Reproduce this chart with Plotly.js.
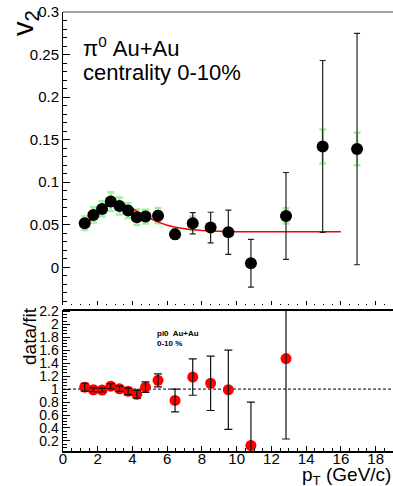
<!DOCTYPE html>
<html>
<head>
<meta charset="utf-8">
<script src="https://cdn.plot.ly/plotly-3.0.1.min.js"></script>
<style>
  html, body { margin: 0; padding: 0; background: #fff; }
  #chart { width: 393px; height: 486px; }
</style>
</head>
<body>
<div id="chart"></div>
<script>
// pi0 v2 vs pT, Au+Au 0-10% central, with fit and data/fit ratio
const ptValues = [1.25, 1.75, 2.25, 2.75, 3.25, 3.75, 4.25, 4.75, 5.47, 6.45, 7.47, 8.5, 9.52, 10.82, 12.84, 14.95, 16.93];
const v2Values = [0.0518, 0.0615, 0.0686, 0.0772, 0.0721, 0.0666, 0.0588, 0.0596, 0.0607, 0.0388, 0.0518, 0.0467, 0.0412, 0.0047, 0.0604, 0.142, 0.139];
const v2Stat   = [0.003, 0.002, 0.002, 0.003, 0.003, 0.003, 0.004, 0.005, 0.006, 0.006, 0.0125, 0.018, 0.026, 0.028, 0.051, 0.101, 0.136];
const v2Sys    = [0.008, 0.009, 0.009, 0.011, 0.010, 0.009, 0.009, 0.008, 0.009, 0.003, 0.008, 0.004, 0.004, 0.003, 0.009, 0.020, 0.019];

// fit curve sampled along pT (ends at 16 GeV/c)
const fitPt = [1.2, 1.5, 1.75, 2.0, 2.3, 2.6, 2.9, 3.15, 3.4, 3.7, 4.0, 4.3, 4.6, 5.0, 5.5, 6.0, 6.5, 7.0, 7.5, 8.0, 9.0, 10.0, 12.0, 14.0, 16.0];
const fitV2 = [0.0478, 0.0535, 0.058, 0.0625, 0.068, 0.0718, 0.0742, 0.0748, 0.0740, 0.0720, 0.0688, 0.0653, 0.0617, 0.0576, 0.0531, 0.0495, 0.0470, 0.0452, 0.0440, 0.0432, 0.0423, 0.0419, 0.0418, 0.0418, 0.0418];

// data/fit ratio (points up to the end of the fit range)
const ratioPt  = ptValues.slice(0, 15);
const ratioVal = [1.03, 0.99, 0.985, 1.045, 1.005, 0.965, 0.92, 1.03, 1.135, 0.825, 1.185, 1.09, 0.99, 0.13, 1.47];
const ratioErr = [0.06, 0.03, 0.03, 0.04, 0.04, 0.05, 0.06, 0.08, 0.10, 0.175, 0.28, 0.42, 0.61, 0.67, 1.24];

const FONT = 'Liberation Sans, Arial, Helvetica, sans-serif';
const W = 393, H = 486;
const M = {l: 63, r: 0, t: 12, b: 35};
const PW = W - M.l - M.r, PH = H - M.t - M.b;
const px = x => (x - M.l) / PW;
const py = y => (H - M.b - y) / PH;

const lowerTop = py(310);
const upperBottom = py(305);

const traces = [
  // systematic uncertainties (green bars behind)
  {
    x: ptValues, y: v2Values, xaxis: 'x2', yaxis: 'y2', type: 'scatter', mode: 'markers',
    marker: {size: 1, color: 'rgba(0,0,0,0)'},
    error_y: {type: 'data', array: v2Sys, visible: true, color: 'rgba(140,235,140,0.8)', thickness: 2.5, width: 3.5},
    hoverinfo: 'skip', showlegend: false
  },
  // fit
  {
    x: fitPt, y: fitV2, xaxis: 'x2', yaxis: 'y2', type: 'scatter', mode: 'lines',
    line: {color: '#ff0000', width: 1.5, shape: 'spline'},
    showlegend: false
  },
  // measured v2 with statistical errors
  {
    x: ptValues, y: v2Values, xaxis: 'x2', yaxis: 'y2', type: 'scatter', mode: 'markers',
    marker: {size: 12, color: '#000'},
    error_y: {type: 'data', array: v2Stat, visible: true, color: '#222', thickness: 1.2, width: 3},
    showlegend: false
  },
  // ratio markers
  {
    x: ratioPt, y: ratioVal, xaxis: 'x', yaxis: 'y', type: 'scatter', mode: 'markers',
    marker: {size: 11, color: '#ff0000'},
    showlegend: false
  },
  // ratio error bars drawn over the markers
  {
    x: ratioPt, y: ratioVal, xaxis: 'x', yaxis: 'y', type: 'scatter', mode: 'markers',
    marker: {size: 1, color: 'rgba(0,0,0,0)'},
    error_y: {type: 'data', array: ratioErr, visible: true, color: '#111', thickness: 1.2, width: 4},
    hoverinfo: 'skip', showlegend: false
  }
];

const layout = {
  width: W, height: H,
  margin: M,
  paper_bgcolor: '#fff', plot_bgcolor: 'rgba(0,0,0,0)',
  showlegend: false,
  font: {family: FONT, color: '#000'},
  xaxis: {
    domain: [0, 1], anchor: 'y', range: [0, 19],
    tickmode: 'linear', tick0: 0, dtick: 2,
    ticks: 'inside', ticklen: 5, tickwidth: 1, tickcolor: '#000',
    minor: {dtick: 0.5, ticks: 'inside', ticklen: 3, tickcolor: '#000', tickwidth: 1},
    showline: true, linecolor: '#000', linewidth: 1.5,
    showgrid: false, zeroline: false,
    ticklabelstandoff: -7,
    tickfont: {family: FONT, size: 15, color: '#000'}
  },
  yaxis: {
    domain: [0, lowerTop], anchor: 'x', range: [0.045, 2.22],
    tickmode: 'linear', tick0: 0, dtick: 0.2,
    ticks: 'inside', ticklen: 7, tickwidth: 1, tickcolor: '#000',
    minor: {dtick: 0.05, ticks: 'inside', ticklen: 4, tickcolor: '#000', tickwidth: 1},
    showline: true, linecolor: '#000', linewidth: 1.5,
    showgrid: false, zeroline: false,
    tickfont: {family: FONT, size: 14, color: '#000'}
  },
  xaxis2: {
    domain: [0, 1], anchor: 'y2', range: [0, 19], matches: 'x',
    tickmode: 'linear', tick0: 0, dtick: 2,
    ticks: 'inside', ticklen: 4, tickwidth: 1, tickcolor: '#000',
    minor: {dtick: 0.5, ticks: 'inside', ticklen: 1.5, tickcolor: '#000', tickwidth: 1},
    showline: false, showticklabels: false,
    showgrid: false, zeroline: false
  },
  yaxis2: {
    domain: [upperBottom, 1], anchor: 'x2', range: [-0.0443, 0.3],
    tickmode: 'linear', tick0: 0, dtick: 0.05,
    ticks: 'inside', ticklen: 7, tickwidth: 1, tickcolor: '#000',
    minor: {dtick: 0.01, ticks: 'inside', ticklen: 4, tickcolor: '#000', tickwidth: 1},
    showline: true, linecolor: '#000', linewidth: 1,
    showgrid: false, zeroline: false,
    tickfont: {family: FONT, size: 15, color: '#000'}
  },
  shapes: [
    // frame top of the v2 panel
    {type: 'line', xref: 'paper', yref: 'paper', x0: 0, x1: 1, y0: 1, y1: 1,
     line: {color: '#444', width: 1}},
    // frame top of the ratio panel
    {type: 'line', xref: 'paper', yref: 'paper', x0: 0, x1: 1, y0: lowerTop, y1: lowerTop,
     line: {color: '#000', width: 2}},
    // unity reference line
    {type: 'line', xref: 'x', yref: 'y', x0: 0, x1: 19, y0: 1, y1: 1, layer: 'below',
     line: {color: '#000', width: 1, dash: '3px,2px'}}
  ],
  annotations: [
    {text: 'v<sub>2</sub>', textangle: -90, xref: 'paper', yref: 'paper',
     x: px(25), y: py(23), xanchor: 'center', yanchor: 'middle', showarrow: false,
     font: {family: FONT, size: 29, color: '#000'}},
    {text: '\u03c0<sup>0</sup> Au+Au', xref: 'paper', yref: 'paper',
     x: px(81), y: py(47), xanchor: 'left', yanchor: 'middle', showarrow: false,
     font: {family: FONT, size: 22, color: '#000'}},
    {text: 'centrality 0-10%', xref: 'paper', yref: 'paper',
     x: px(81), y: py(73), xanchor: 'left', yanchor: 'middle', showarrow: false,
     font: {family: FONT, size: 22, color: '#000'}},
    {text: '<b>pi0  Au+Au</b>', xref: 'paper', yref: 'paper',
     x: px(155), y: py(334), xanchor: 'left', yanchor: 'middle', showarrow: false,
     font: {family: FONT, size: 8, color: '#000'}},
    {text: '<b>0-10 %</b>', xref: 'paper', yref: 'paper',
     x: px(155), y: py(343), xanchor: 'left', yanchor: 'middle', showarrow: false,
     font: {family: FONT, size: 8, color: '#000'}},
    {text: 'data/fit', textangle: -90, xref: 'paper', yref: 'paper',
     x: px(30), y: py(336), xanchor: 'center', yanchor: 'middle', showarrow: false,
     font: {family: FONT, size: 19, color: '#000'}},
    {text: 'p<sub>T</sub> (GeV/c)', xref: 'paper', yref: 'paper',
     x: px(393), y: py(476), xanchor: 'right', yanchor: 'middle', showarrow: false,
     font: {family: FONT, size: 19, color: '#000'}}
  ]
};

Plotly.newPlot('chart', traces, layout, {staticPlot: true, displayModeBar: false});
</script>
</body>
</html>
